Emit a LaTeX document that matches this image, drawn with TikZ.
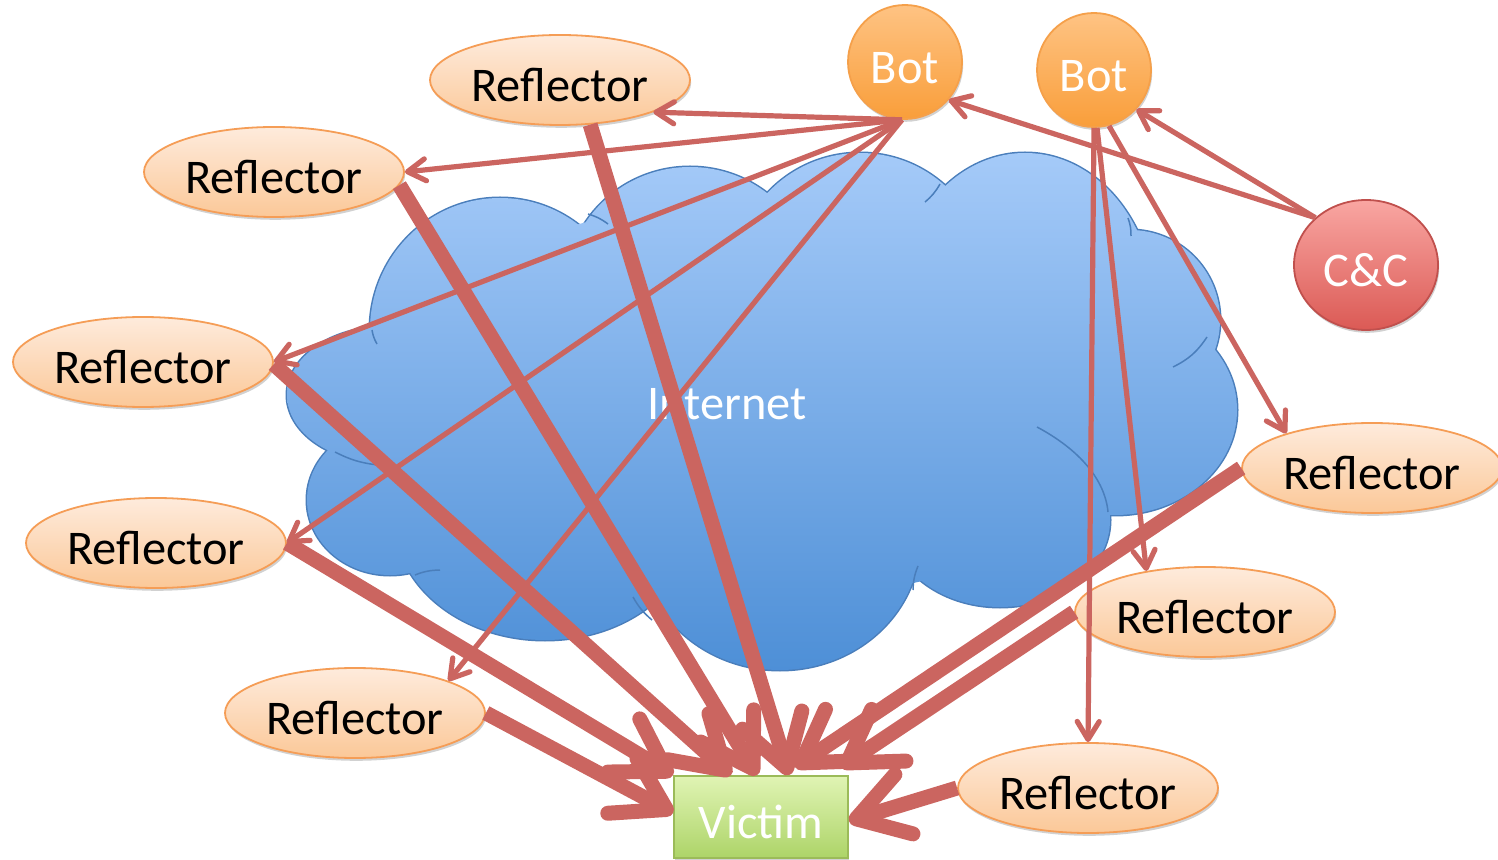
\documentclass[tikz,border=0pt]{standalone}
\usepackage{fontspec}
\setmainfont{Carlito}
\usetikzlibrary{shapes.geometric,arrows.meta,shadows}

\definecolor{reflTop}{HTML}{FEEBDC}
\definecolor{reflBot}{HTML}{FBC898}
\definecolor{reflLine}{HTML}{F59D56}
\definecolor{botTop}{HTML}{FEC383}
\definecolor{botBot}{HTML}{F99E3A}
\definecolor{botLine}{HTML}{F5A04A}
\definecolor{ccTop}{HTML}{F9A6A2}
\definecolor{ccBot}{HTML}{DB5A55}
\definecolor{ccLine}{HTML}{C0504D}
\definecolor{vicTop}{HTML}{E0F4B4}
\definecolor{vicBot}{HTML}{ADD468}
\definecolor{vicLine}{HTML}{9BBB59}
\definecolor{cloudTop}{HTML}{A6CBF9}
\definecolor{cloudBot}{HTML}{4C8ED6}
\definecolor{cloudLine}{HTML}{4A7EBB}
\definecolor{attack}{HTML}{CB6560}

\tikzset{
  lbl/.style={font=\fontsize{24.2}{29}\selectfont, text height=21.5pt, text depth=0pt},
  softshadow/.style={drop shadow={shadow xshift=0.6pt,shadow yshift=-1.4pt,opacity=0.18,fill=black}},
  refl/.style={ellipse, draw=reflLine, line width=0.9pt, top color=reflTop, bottom color=reflBot,
    minimum width=130pt, minimum height=45pt, inner sep=0pt, text=black, lbl, softshadow},
  botnode/.style={circle, draw=botLine, line width=0.9pt, top color=botTop, bottom color=botBot,
    minimum size=57pt, inner sep=0pt, text=white, lbl, softshadow},
  ccnode/.style={ellipse, draw=ccLine, line width=0.9pt, top color=ccTop, bottom color=ccBot,
    minimum width=72pt, minimum height=65pt, inner sep=0pt, text=white, lbl, softshadow},
  vicnode/.style={rectangle, draw=vicLine, line width=0.9pt, top color=vicTop, bottom color=vicBot,
    minimum width=87pt, minimum height=41pt, inner sep=0pt, text=white, lbl, softshadow},
  cmd/.style={draw=attack, line width=2.6pt, -{Straight Barb[length=9pt,width=11pt,round]}},
  flood/.style={draw=attack, line width=7.5pt, -{Straight Barb[length=25pt,width=31pt,round]}},
  lobeline/.style={draw=cloudLine, line width=1.5pt},
  tail/.style={draw=cloudLine, line width=0.75pt},
}

% cloud lobes: centre x / centre y / x radius / y radius
\def\lobes{500/330/65/66, 690/290/62.5/61.5, 860/280/63.5/63.5, 1025/310/65/78.5,
  1130/320/45/45, 1115/410/61/52.5, 1000/520/55/43.5, 780/540/70/65,
  545/520/75/60, 390/500/41.5/37.5, 385/395/49/34}

\begin{document}
\begin{tikzpicture}[x=0.5pt,y=-0.5pt]
\useasboundingbox (0,0) rectangle (1498,860);

% ---- Internet cloud: union of lobes ----
\foreach \cx/\cy/\rx/\ry in \lobes
  \path[lobeline] (\cx,\cy) ellipse [x radius=\rx pt, y radius=\ry pt];
\begin{scope}
  \clip \foreach \cx/\cy/\rx/\ry in \lobes {(\cx,\cy) ellipse [x radius=\rx pt, y radius=\ry pt]}
        (760,400) ellipse [x radius=190pt, y radius=100pt];
  \shade[top color=cloudTop, bottom color=cloudBot] (270,145) rectangle (1250,680);
\end{scope}
% inner arcs of the cloud outline
\draw[tail] (372,330) to[bend right=10] (377,344);
\draw[tail] (588,214) to[bend left=10] (608,224);
\draw[tail] (940,184) to[bend left=10] (925,202);
\draw[tail] (1128,218) to[bend left=10] (1131,236);
\draw[tail] (1207,337) to[bend left=15] (1173,367);
\draw[tail] (1037,427) .. controls (1080,450) and (1105,480) .. (1108,512);
\draw[tail] (913,590) to[bend left=10] (918,566);
\draw[tail] (633,597) to[bend right=10] (652,620);
\draw[tail] (415,575) to[bend left=10] (440,570);
\draw[tail] (335,452) to[bend right=10] (378,465);

\node[lbl, text=white] (net) at (727,398) {Internet};

% ---- nodes ----
\node[refl] (rA) at (560,80) {Reflector};
\node[refl] (rB) at (274,172) {Reflector};
\node[refl] (rC) at (143,362) {Reflector};
\node[refl] (rD) at (156,543) {Reflector};
\node[refl] (rE) at (355,713) {Reflector};
\node[refl] (rF) at (1372,468) {Reflector};
\node[refl] (rG) at (1205,612) {Reflector};
\node[refl] (rH) at (1088,788) {Reflector};
\node[botnode] (bot1) at (905,62) {Bot};
\node[botnode] (bot2) at (1094,70) {Bot};
\node[ccnode] (cc) at (1366,265) {C\&C};
\node[vicnode] (victim) at (761,817) {Victim};

% ---- command traffic ----
\draw[cmd] (cc.137) -- (bot1.-41);
\draw[cmd] (cc.137) -- (bot2.-43);
\draw[cmd] (bot1.-93) -- (rA.-19);
\draw[cmd] (bot1.-93) -- (rB.east);
\draw[cmd] (bot1.-93) -- (rC.east);
\draw[cmd] (bot1.-93) -- (rD.east);
\draw[cmd] (bot1.-93) -- (rE.19);
\draw[cmd] (bot2.-90) -- (rH.north);
\draw[cmd] (bot2.-87) -- (rG.145);
\draw[cmd] (bot2.-75) -- (rF.158);

% ---- reflected flood towards the victim ----
\draw[flood] (rA.-56) -- ([xshift=14pt]victim.north);
\draw[flood] (rB.-6) -- ([xshift=-2pt]victim.north);
\draw[flood] (rC.-1) -- ([xshift=-15pt]victim.north);
\draw[flood] (rD.east) -- (victim.north west);
\draw[flood] (rE.east) -- ([yshift=2pt]victim.west);
\draw[flood] (rF.west) -- ([xshift=17pt,yshift=4pt]victim.north);
\draw[flood] (rG.west) -- ([xshift=-4pt,yshift=4pt]victim.north east);
\draw[flood] (rH.west) -- ([yshift=-2pt]victim.east);
\end{tikzpicture}
\end{document}
